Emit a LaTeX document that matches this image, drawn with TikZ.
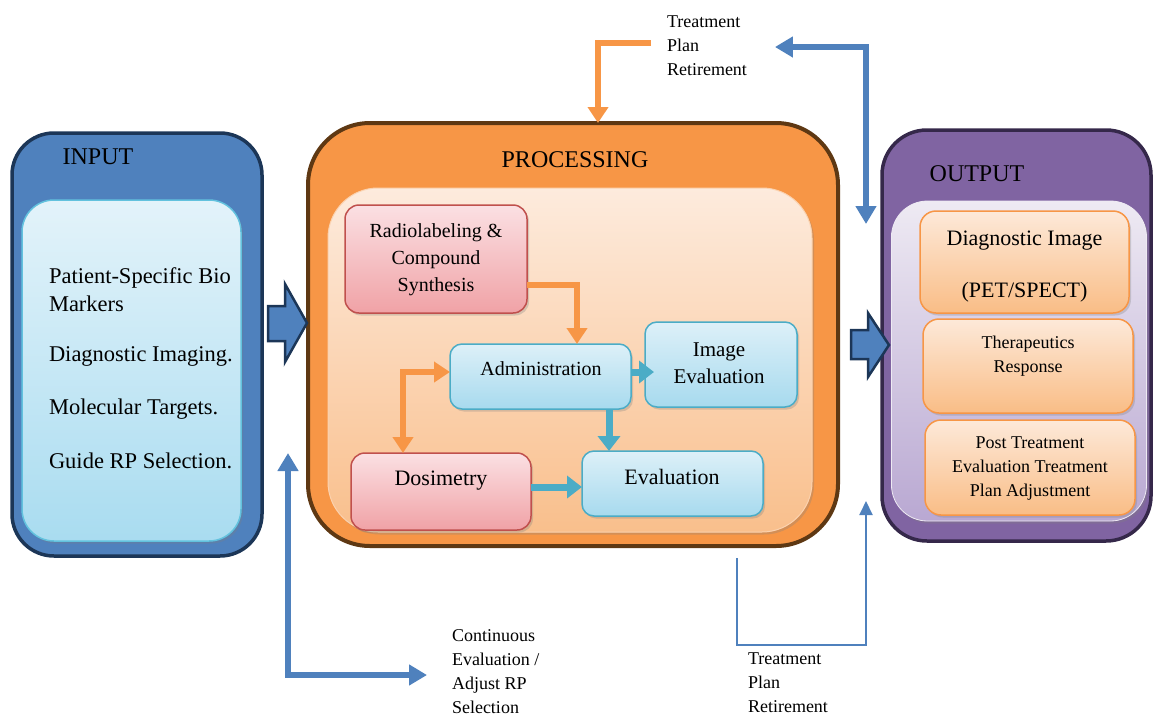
\documentclass[tikz,border=0pt]{standalone}
\usepackage{fontspec}
\setmainfont{Liberation Serif}
\usetikzlibrary{arrows.meta,shadows,calc}

\definecolor{inblue}{HTML}{4F81BD}
\definecolor{innavy}{HTML}{1C3657}
\definecolor{incyan}{HTML}{62C2DE}
\definecolor{intop}{HTML}{E3F3FA}
\definecolor{inbot}{HTML}{A9DCF0}
\definecolor{proorange}{HTML}{F79646}
\definecolor{probrown}{HTML}{5E3813}
\definecolor{peachtop}{HTML}{FDEBDD}
\definecolor{peachbot}{HTML}{F9BF8C}
\definecolor{outpurple}{HTML}{8064A2}
\definecolor{outdark}{HTML}{35284A}
\definecolor{lavtop}{HTML}{EEEAF3}
\definecolor{lavbot}{HTML}{B9A8D2}
\definecolor{pinktop}{HTML}{FBE0E3}
\definecolor{pinkbot}{HTML}{F0A2A6}
\definecolor{pinkline}{HTML}{C0504D}
\definecolor{skytop}{HTML}{DDF0F8}
\definecolor{skybot}{HTML}{A7DAEE}
\definecolor{tealc}{HTML}{4BACC6}
\definecolor{otop}{HTML}{FDE9D9}
\definecolor{obot}{HTML}{F9BD86}

\begin{document}
\begin{tikzpicture}[x=1pt,y=-1pt,
  every node/.style={inner sep=0pt, outer sep=0pt},
  soft/.style={drop shadow={opacity=0.3, shadow xshift=2pt, shadow yshift=-2.5pt}},
  pinkbox/.style={draw=pinkline, line width=1.5pt, top color=pinktop, bottom color=pinkbot, rounded corners=14pt, soft},
  skybox/.style={draw=tealc, line width=1.5pt, top color=skytop, bottom color=skybot, rounded corners=12pt, soft},
  outbox/.style={draw=proorange, line width=1.5pt, top color=otop, bottom color=obot, rounded corners=16pt, soft},
  title/.style={font=\fontsize{24}{28}\selectfont},
  big/.style={font=\fontsize{22.5}{28}\selectfont},
  mid/.style={font=\fontsize{20}{27}\selectfont, align=center},
  small/.style={font=\fontsize{18}{24}\selectfont, align=center},
  note/.style={font=\fontsize{18}{24}\selectfont, align=left},
  oarrow/.style={draw=proorange, line width=6pt, -{Triangle[width=20pt,length=16pt]}},
  oarrows/.style={draw=proorange, line width=6pt, {Triangle[width=20pt,length=16pt]}-{Triangle[width=20pt,length=16pt]}},
  tarrow/.style={draw=tealc, line width=7pt, -{Triangle[width=22pt,length=15pt]}},
  barrows/.style={draw=inblue, line width=6pt, {Triangle[width=20pt,length=18pt]}-{Triangle[width=20pt,length=18pt]}},
  thinarrow/.style={draw=inblue, line width=2pt, -{Triangle[width=13pt,length=14pt]}},
  blockarrow/.style={draw=innavy, line width=2.5pt, fill=inblue, line join=miter}
]
\useasboundingbox (0,0) rectangle (1154,718);

% ---------- INPUT ----------
\node[draw=innavy, line width=3.5pt, fill=inblue, rounded corners=42pt,
      minimum width=250pt, minimum height=423pt] (inout) at (137,344.5) {};
\node[draw=incyan, line width=1.5pt, top color=intop, bottom color=inbot,
      rounded corners=32pt, minimum width=219pt, minimum height=341pt, soft] (inin) at (131.5,370.5) {};
\node[title] (intitle) at (98,157) {INPUT};
\node[big, anchor=base west] (in1) at (49,283) {Patient-Specific Bio};
\node[big, anchor=base west] (in2) at (49,311) {Markers};
\node[big, anchor=base west] (in3) at (49,361) {Diagnostic Imaging.};
\node[big, anchor=base west] (in4) at (49,414) {Molecular Targets.};
\node[big, anchor=base west] (in5) at (49,468) {Guide RP Selection.};

% ---------- PROCESSING ----------
\node[draw=probrown, line width=4pt, fill=proorange, rounded corners=62pt,
      minimum width=530pt, minimum height=423pt] (procout) at (573,334.5) {};
\node[draw=peachbot!70!white, line width=1pt, top color=peachtop, bottom color=peachbot,
      rounded corners=50pt, minimum width=484pt, minimum height=344pt, soft] (procin) at (570,360) {};
\node[title] (proctitle) at (575,160) {PROCESSING};

\node[pinkbox, minimum width=182pt, minimum height=108pt] (radio) at (436,259) {};
\node[mid] (radiotxt) at (436,260) {Radiolabeling \&\\Compound\\Synthesis};

\node[skybox, minimum width=181pt, minimum height=65pt] (adm) at (540.5,376.5) {};
\node[mid] (admtxt) at (541,369) {Administration};

\node[skybox, minimum width=152pt, minimum height=85pt] (imgev) at (721,364.5) {};
\node[mid, font=\fontsize{21}{27}\selectfont] (imgevtxt) at (719,363) {Image\\Evaluation};

\node[pinkbox, minimum width=180pt, minimum height=77pt] (dos) at (441,491.5) {};
\node[mid, font=\fontsize{22}{27}\selectfont] (dostxt) at (441,481) {Dosimetry};

\node[skybox, minimum width=181pt, minimum height=65pt] (eval) at (672.5,483.5) {};
\node[mid, font=\fontsize{22}{27}\selectfont] (evaltxt) at (672,477) {Evaluation};

% connectors inside the processing block
\draw[oarrow] (radio.east |- 0,285) -| (577,0 |- adm.north);
\draw[oarrows] (adm.west |- 0,372) -| (403,0 |- dos.north);
\coordinate (ietip) at (654,372);
\draw[tarrow] (adm.east |- 0,372) -- (ietip);
\draw[tarrow] (609,0 |- adm.south) -- (609,0 |- eval.north);
\draw[tarrow] (dos.east |- 0,487) -- (eval.west |- 0,487);

% ---------- OUTPUT ----------
\node[draw=outdark, line width=3.5pt, fill=outpurple, rounded corners=45pt,
      minimum width=269pt, minimum height=411pt] (outout) at (1016.5,335.5) {};
\node[top color=lavtop, bottom color=lavbot, draw=lavtop, line width=0.8pt,
      rounded corners=36pt, minimum width=255pt, minimum height=320pt, soft] (outin) at (1019,361) {};
\node[title] (outtitle) at (977,174) {OUTPUT};

\node[outbox, minimum width=209pt, minimum height=102pt] (diag) at (1024.5,262) {};
\node[mid, font=\fontsize{22}{52}\selectfont] (diagtxt) at (1024.5,267) {Diagnostic Image\\(PET/SPECT)};

\node[outbox, minimum width=210pt, minimum height=94pt] (ther) at (1028,366) {};
\node[small] (thertxt) at (1028,356) {Therapeutics\\Response};

\node[outbox, minimum width=210pt, minimum height=95pt] (post) at (1030,467.5) {};
\node[small] (posttxt) at (1030,469) {Post Treatment\\Evaluation Treatment\\Plan Adjustment};

% ---------- block arrows between the stages ----------
\draw[blockarrow] (268,306) -- (285,306) -- (285,284) -- (307,323) -- (285,362) -- (285,341) -- (268,341) -- cycle;
\draw[blockarrow] (851,330) -- (868,330) -- (868,313) -- (889,345) -- (868,377) -- (868,359) -- (851,359) -- cycle;

% ---------- feedback loops ----------
\node[note, anchor=north west] (toptxt) at (667,16) {Treatment\\Plan\\Retirement};
\draw[oarrow] ($(toptxt.west |- 0,43)+(-16,0)$) -| (598,0 |- procout.north);
\coordinate (outside) at (866,224);
\draw[barrows] ($(toptxt.east |- 0,47)+(28,0)$) -| (outside);

\node[note, anchor=north west] (conttxt) at (452,630) {Continuous\\Evaluation /\\Adjust RP\\Selection};
\coordinate (gap) at (288,453);
\draw[barrows] (gap) |- ($(conttxt.west |- 0,675)+(-25,0)$);

\node[note, anchor=north west] (bottxt) at (748,653) {Treatment\\Plan\\Retirement};
\coordinate (procbelow) at (737,558);
\coordinate (outbelow) at (866,501);
\draw[thinarrow] (procbelow) -- (procbelow |- 0,645) -| (outbelow);

\end{tikzpicture}
\end{document}
